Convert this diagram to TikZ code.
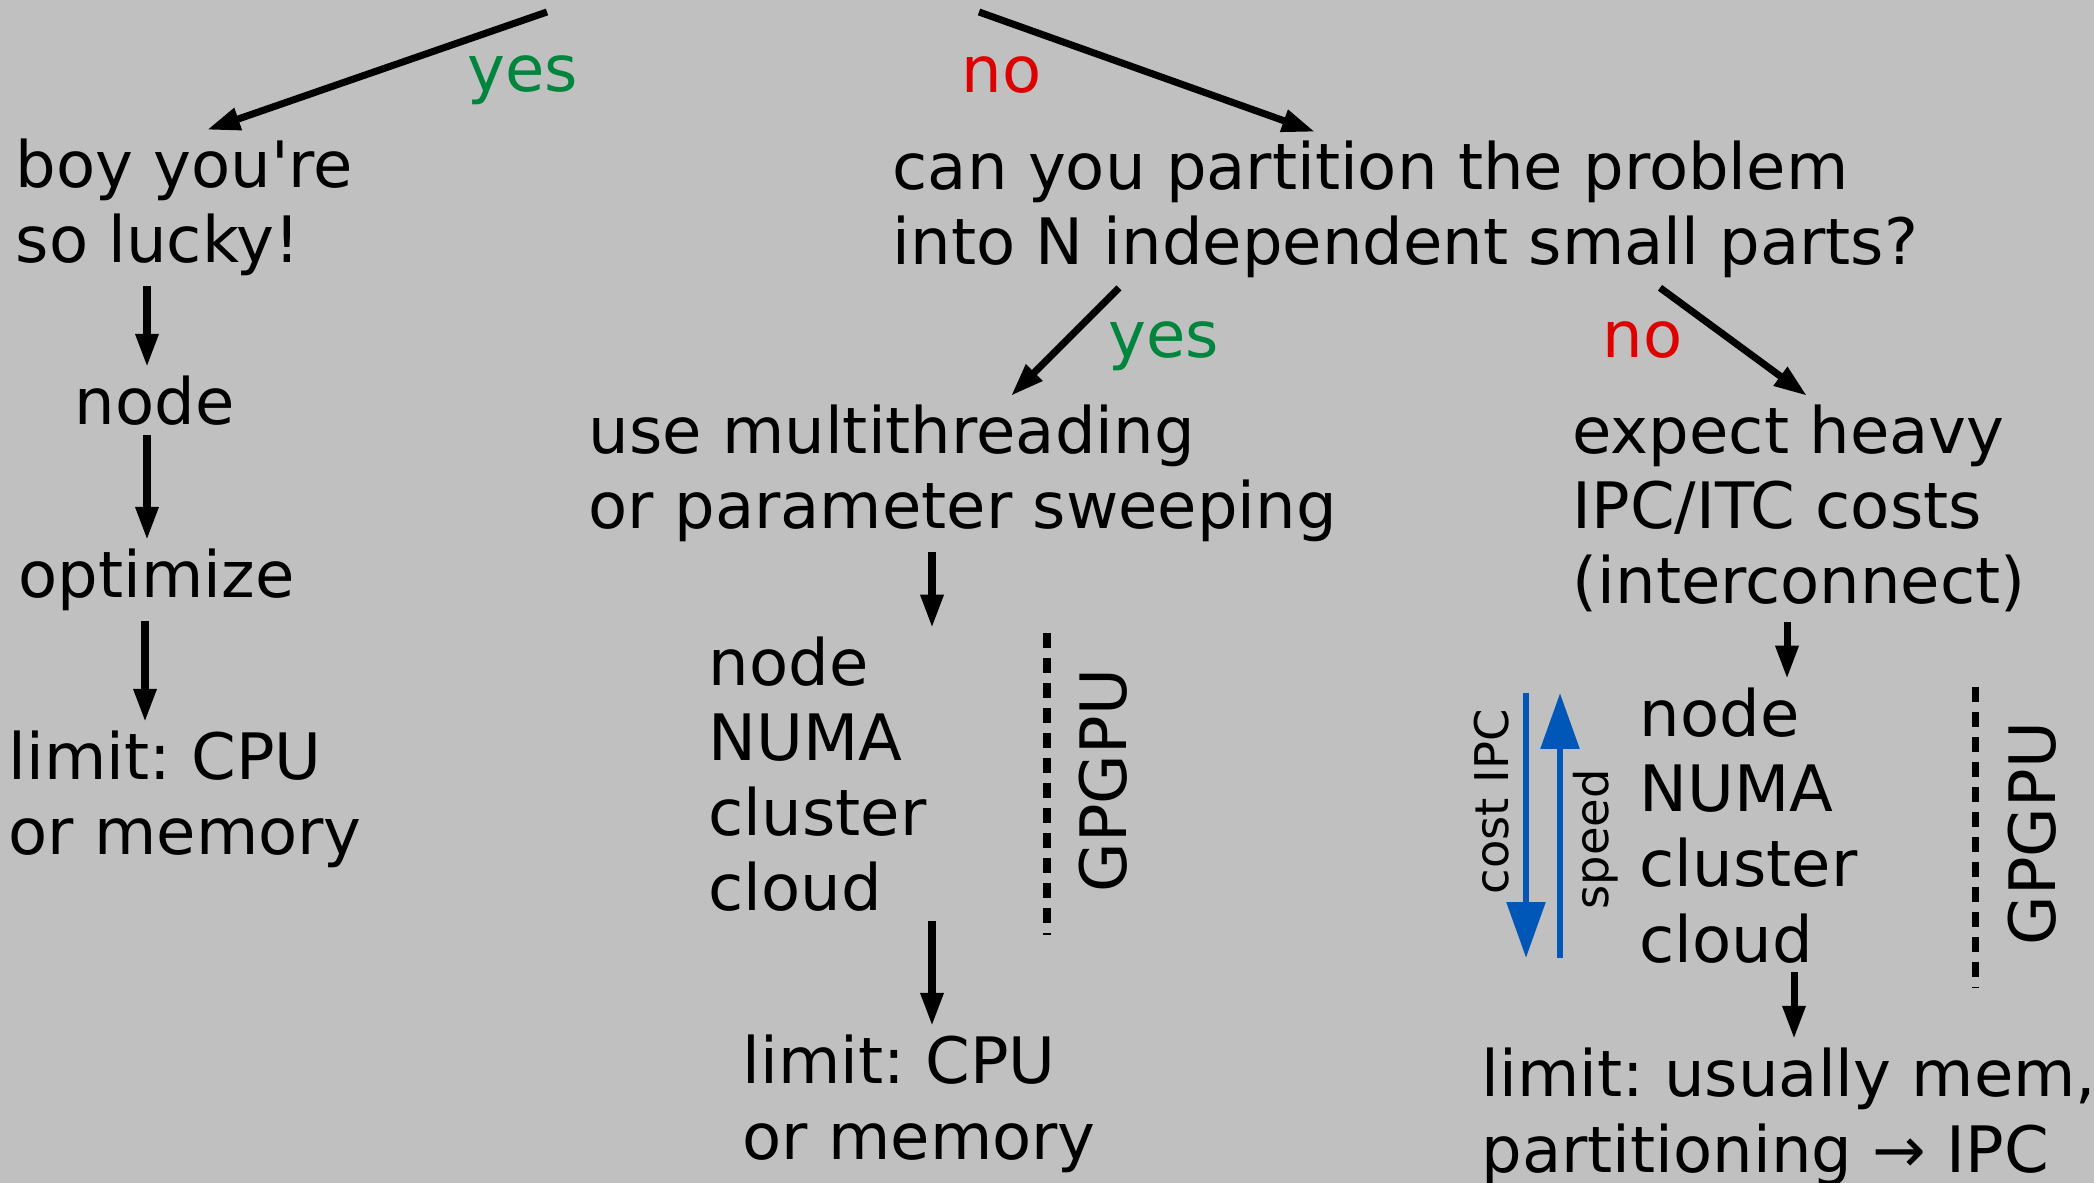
\documentclass[tikz,border=0pt]{standalone}
\usepackage{fontspec}
\setmainfont{DejaVu Sans}
\usetikzlibrary{arrows.meta,positioning}
\definecolor{bggray}{RGB}{192,192,192}
\definecolor{yesgreen}{RGB}{0,133,62}
\definecolor{nored}{RGB}{221,0,0}
\definecolor{ipcblue}{RGB}{0,87,183}
\frenchspacing

\begin{document}
\begin{tikzpicture}[
    x=0.01cm, y=-0.01cm,
    >={Triangle[length=9.4pt,width=6.2pt]},
    % multi-line texts sit on the baseline of their last line
    txt/.style={anchor=base west, align=left, inner xsep=0pt, inner ysep=2.5pt,
                font=\fontsize{18.2}{21.34}\selectfont},
    yes/.style={txt, text=yesgreen},
    no/.style={txt, text=nored},
    vert/.style={anchor=base west, rotate=90, inner sep=0pt,
                 font=\fontsize{18.2}{21.34}\selectfont},
    small/.style={vert, font=\fontsize{13.2}{15.6}\selectfont},
    arr/.style={->, line width=2pt},
    bluearr/.style={-{Triangle[length=15.9pt,width=10.7pt]}, line width=1.9pt,
                    draw=ipcblue},
    sep/.style={line width=2pt, dash pattern=on 4.3pt off 2.8pt}
  ]
  \useasboundingbox (0,0) rectangle (2094,1183);
  \fill[bggray] (0,0) rectangle (2094,1183);

  % first question (off the top)
  \coordinate (topl) at (547,12);
  \coordinate (topr) at (979,12);
  \node[yes] (yes1) at (467,92) {yes};
  \node[no]  (no1)  at (961,93) {no};

  % left branch
  \node[txt] (lucky) at (15,263) {boy you\textquotesingle re\\so lucky!};
  \node[txt] (lnode) at (74,425) {node};
  \node[txt] (lopt)  at (18,598) {optimize};
  \node[txt] (llim)  at (8,855)  {limit: CPU\\or memory};
  \draw[arr] (topl) -- (lucky.north -| 207,0);
  \draw[arr] (lucky.south -| 147,0) -- (lnode.north -| 147,0);
  \draw[arr] (lnode.south -| 147,0) -- (lopt.north -| 147,0);
  \draw[arr] (lopt.south -| 145,0) -- (llim.north -| 145,0);

  % partition question
  \node[txt] (qpart) at (892,265)
    {can you partition the problem\\into N independent small parts?};
  \draw[arr] (topr) -- (qpart.north -| 1315,0);
  \node[yes] (yes2) at (1108,358) {yes};
  \node[no]  (no2)  at (1602,358) {no};

  % independent parts
  \node[txt] (multi) at (588,529) {use multithreading\\or parameter sweeping};
  \node[txt] (mlist) at (708,911) {node\\NUMA\\cluster\\cloud};
  \node[vert] (mgpu) at (1126,893) {GPGPU};
  \draw[sep] (1047,633) -- (1047,935);
  \node[txt] (mlim) at (742,1159) {limit: CPU\\or memory};
  \draw[arr] (qpart.south -| 1119,0) -- (multi.north -| 1011,0);
  \draw[arr] (multi.south -| 932,0) -- (mlist.north -| 932,0);
  \draw[arr] (mlist.south -| 932,0) -- (mlim.north -| 932,0);

  % coupled parts
  \node[txt] (heavy) at (1572,604) {expect heavy\\IPC/ITC costs\\(interconnect)};
  \node[txt] (rlist) at (1639,962) {node\\NUMA\\cluster\\cloud};
  \node[vert] (rgpu) at (2055,946) {GPGPU};
  \draw[sep] (1975,687) -- (1975,988);
  \node[txt] (rlim) at (1481,1172) {limit: usually mem,\\partitioning → IPC};
  \draw[arr] (qpart.south -| 1660,0) -- (heavy.north -| 1807,0);
  \draw[arr] (heavy.south -| 1787,0) -- (rlist.north -| 1787,0);
  \draw[arr] (rlist.south -| 1794,0) -- (rlim.north -| 1794,0);

  % cost / speed scale
  \coordinate (costtop) at (1526,693);
  \coordinate (costbot) at (1526,958);
  \coordinate (spdbot)  at (1560,958);
  \coordinate (spdtop)  at (1560,693);
  \draw[bluearr] (costtop) -- (costbot);
  \draw[bluearr] (spdbot) -- (spdtop);
  \node[small] (cost)  at (1508,895) {cost IPC};
  \node[small] (speed) at (1608,910) {speed};
\end{tikzpicture}
\end{document}
